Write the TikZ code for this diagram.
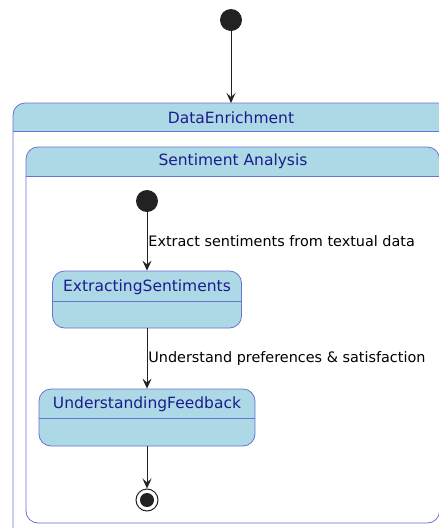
\documentclass[tikz,border=0pt]{standalone}
\usepackage{fontspec}
\setmainfont{DejaVu Sans}
\usetikzlibrary{arrows.meta}

\definecolor{stateblue}{RGB}{173,216,230}
\definecolor{stateline}{RGB}{104,116,210}
\definecolor{statetext}{RGB}{28,28,140}
\definecolor{ink}{RGB}{34,34,34}

\tikzset{
  start/.style={circle, fill=ink, minimum size=22pt, inner sep=0pt},
  state/.style={draw=stateline, fill=stateblue, rounded corners=12pt, line width=0.8pt},
  statename/.style={text=statetext, font=\fontsize{15.5}{17}\selectfont},
  edgetext/.style={right, inner sep=1pt, font=\fontsize{14.4}{16}\selectfont},
  trans/.style={draw=ink, line width=0.8pt, -{Stealth[length=10pt,width=9pt,inset=4pt]}}
}

\begin{document}
\begin{tikzpicture}[x=1pt,y=-1pt]
      \useasboundingbox (0,0) rectangle (439,528);
      \clip (0,0) rectangle (439,528);

      % composite state DataEnrichment
      \fill[stateblue, rounded corners=12pt] (13,103) rectangle (480,580);
      \fill[white, rounded corners=12pt] (13,131) -- (13,580) -- (480,580) -- (480,131);
      \draw[stateline, line width=0.8pt, rounded corners=12pt] (13,103) rectangle (480,580);
      \draw[stateline, line width=0.8pt] (13,131) -- (480,131);
      \node[statename] (de) at (231,118) {DataEnrichment};
      \coordinate (detop) at (231,103);

      % composite state Sentiment Analysis
      \fill[stateblue, rounded corners=12pt] (26,147) rectangle (439.5,523);
      \fill[white, rounded corners=12pt] (26,176) -- (26,523) -- (439.5,523) -- (439.5,176);
      \draw[stateline, line width=0.8pt, rounded corners=12pt] (26,147) rectangle (439.5,523);
      \draw[stateline, line width=0.8pt] (26,176) -- (439.5,176);
      \node[statename] (sa) at (233,161) {Sentiment Analysis};

      \node[start] (top)  at (231,20) {};
      \node[start] (init) at (147,201) {};

      \node[state, minimum width=189pt, minimum height=57pt] (es) at (147,299.5) {};
      \node[statename] (estext) at (147,287.5) {ExtractingSentiments};
      \draw[stateline, line width=0.8pt] (es.west |- 0,301) -- (es.east |- 0,301);

      \node[state, minimum width=216pt, minimum height=57pt] (uf) at (147,417.5) {};
      \node[statename] (uftext) at (147,404.5) {UnderstandingFeedback};
      \draw[stateline, line width=0.8pt] (uf.west |- 0,418) -- (uf.east |- 0,418);

      \node[circle, draw=ink, line width=1pt, minimum size=22pt, inner sep=0pt] (final) at (147,500) {};
      \fill[ink] (final.center) circle (7pt);

      \draw[trans] (top) -- (detop);
      \draw[trans] (init) -- node[edgetext] {Extract sentiments from textual data} (es);
      \draw[trans] (es) -- node[edgetext] {Understand preferences \& satisfaction} (uf);
      \draw[trans] (uf) -- (final);
\end{tikzpicture}
\end{document}
